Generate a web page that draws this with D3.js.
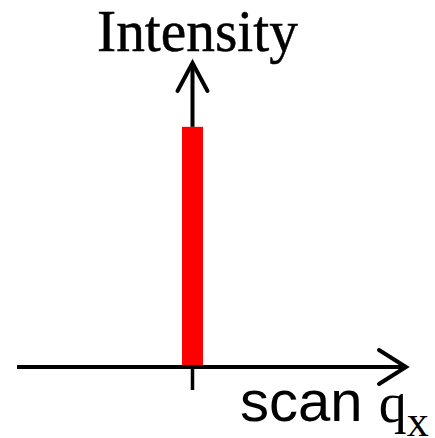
<!DOCTYPE html>
<html>
<head>
<meta charset="utf-8">
<script src="https://cdn.jsdelivr.net/npm/d3@7"></script>
<style>
  html, body { margin: 0; padding: 0; background: #fff; }
  svg { display: block; }
</style>
</head>
<body>
<script>
// One diffraction peak along the scanned q_x direction
const peakPositions = [0];
const peakIntensities = [1];
const qDomain = [-0.9, 1.1];
const intensityDomain = [0, 1.27];
const yAxisLabel = "Intensity";
const xAxisLabel = { word: "scan", symbol: "q", sub: "x" };

const W = 435, H = 438;
const svg = d3.select("body").append("svg")
  .attr("width", W).attr("height", H);

const x = d3.scaleLinear().domain(qDomain).range([17, 407]);
const y = d3.scaleLinear().domain(intensityDomain).range([367, 62]);

const x0 = x(0), y0 = y(0);

// Peak bar
const barW = 21;
svg.selectAll("rect.peak")
  .data(peakPositions.map((q, i) => ({ q, v: peakIntensities[i] })))
  .join("rect")
  .attr("class", "peak")
  .attr("x", d => x(d.q) - barW / 2)
  .attr("y", d => y(d.v))
  .attr("width", barW)
  .attr("height", d => y0 - y(d.v))
  .attr("fill", "#ff0000");

const ink = "#000";
const lw = 4;

// Vertical axis with arrowhead (drawn from the top of the peak upward)
const yTop = y(intensityDomain[1]);
svg.append("line")
  .attr("x1", x0).attr("x2", x0)
  .attr("y1", y(peakIntensities[0])).attr("y2", yTop + 2)
  .attr("stroke", ink).attr("stroke-width", lw);
svg.append("path")
  .attr("d", `M${x0 - 15},${yTop + 29} L${x0},${yTop + 1} L${x0 + 15},${yTop + 29}`)
  .attr("fill", "none").attr("stroke", ink).attr("stroke-width", lw)
  .attr("stroke-linecap", "round").attr("stroke-linejoin", "miter");

// Horizontal axis with arrowhead
const xEnd = x(qDomain[1]);
svg.append("line")
  .attr("x1", x(qDomain[0])).attr("x2", xEnd - 2)
  .attr("y1", y0).attr("y2", y0)
  .attr("stroke", ink).attr("stroke-width", lw);
svg.append("path")
  .attr("d", `M${xEnd - 28},${y0 - 17} L${xEnd - 1},${y0} L${xEnd - 28},${y0 + 17}`)
  .attr("fill", "none").attr("stroke", ink).attr("stroke-width", lw)
  .attr("stroke-linecap", "round").attr("stroke-linejoin", "miter");

// Tick under the peak position
svg.selectAll("line.tick")
  .data(peakPositions)
  .join("line")
  .attr("class", "tick")
  .attr("x1", d => x(d)).attr("x2", d => x(d))
  .attr("y1", y0).attr("y2", y0 + 23)
  .attr("stroke", ink).attr("stroke-width", 3.5);

// Axis labels
svg.append("text")
  .attr("x", 97).attr("y", 51)
  .attr("font-family", "'Liberation Serif', 'Times New Roman', serif")
  .attr("font-size", 60)
  .attr("textLength", 201).attr("lengthAdjust", "spacingAndGlyphs")
  .attr("fill", ink)
  .attr("stroke", ink).attr("stroke-width", 0.5)
  .text(yAxisLabel);

const xl = svg.append("text")
  .attr("x", 240).attr("y", 421)
  .attr("fill", ink);
xl.append("tspan")
  .attr("font-family", "'Liberation Sans', Arial, sans-serif")
  .attr("font-size", 58)
  .text(xAxisLabel.word + " ");
xl.append("tspan")
  .attr("font-family", "'Liberation Serif', 'Times New Roman', serif")
  .attr("font-size", 56)
  .attr("dy", 1)
  .text(xAxisLabel.symbol);
xl.append("tspan")
  .attr("font-family", "'Liberation Serif', 'Times New Roman', serif")
  .attr("font-size", 44)
  .attr("dy", 14)
  .text(xAxisLabel.sub);
</script>
</body>
</html>
